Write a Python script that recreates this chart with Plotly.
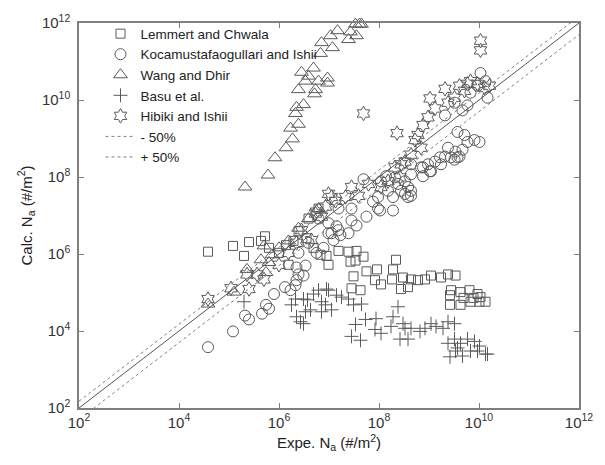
import numpy as np
import plotly.graph_objects as go

# ---- data: (log10 Expe. Na, log10 Calc. Na) ----
lemmert_log10 = [
    (4.58, 6.06), (5.08, 6.21), (5.30, 5.95), (5.40, 6.31), (5.64, 6.34), (5.72, 6.46),
    (5.80, 6.16), (6.14, 6.23), (6.00, 6.03), (6.29, 6.34), (6.39, 6.59), (6.55, 6.41),
    (6.69, 6.16), (6.83, 5.98), (6.19, 5.72), (6.99, 5.72), (6.95, 5.95), (7.19, 6.08),
    (7.39, 6.06), (7.55, 6.08), (7.69, 5.93), (7.43, 5.80), (7.53, 5.83), (8.34, 5.85),
    (7.75, 5.55), (7.96, 5.60), (8.28, 5.60), (7.49, 5.42), (7.92, 5.32), (8.04, 5.21),
    (8.26, 5.34), (8.48, 5.39), (8.64, 5.34), (8.78, 5.32), (8.92, 5.34), (9.04, 5.44),
    (9.24, 5.39), (9.38, 5.47), (9.53, 5.44), (7.45, 5.11), (7.63, 5.06), (8.44, 5.09),
    (8.58, 5.14), (9.44, 5.06), (9.42, 4.93), (9.63, 5.01), (9.81, 5.06), (9.97, 4.96),
    (10.03, 4.88), (9.42, 4.68), (9.63, 4.68), (9.83, 4.76), (10.01, 4.76), (10.13, 4.76),
    (9.69, 4.86), (9.89, 4.86), (6.59, 6.92), (6.79, 7.18),
]
kocamustafaogullari_log10 = [
    (4.58, 3.58), (5.08, 3.99), (5.32, 4.40), (5.40, 4.30), (5.66, 4.45), (5.74, 4.68),
    (5.80, 4.58), (5.90, 4.96), (6.12, 5.14), (6.23, 5.06), (6.33, 5.19), (6.35, 5.32),
    (6.39, 5.47), (6.49, 5.44), (6.35, 5.65), (6.53, 5.70), (7.15, 6.72), (6.99, 6.54),
    (7.23, 6.49), (7.09, 6.36), (7.69, 7.94), (7.98, 7.18), (7.88, 7.36), (8.28, 7.13),
    (8.02, 7.13), (7.75, 6.97), (7.45, 6.87), (7.55, 6.74), (7.39, 6.54), (7.19, 6.62),
    (7.05, 6.54), (6.99, 6.80), (7.45, 7.18), (8.28, 7.48), (8.52, 7.56), (8.64, 7.51),
    (8.58, 7.74), (8.38, 7.82), (8.14, 8.02), (8.64, 8.33), (8.88, 8.25), (9.02, 8.15),
    (9.24, 8.33), (9.51, 8.45), (9.61, 8.53), (9.32, 8.53), (10.03, 10.70), (9.38, 8.76),
    (9.53, 8.66), (9.44, 8.51), (9.57, 8.51), (9.67, 8.71), (9.77, 8.91), (9.91, 8.96),
    (10.01, 8.91), (9.71, 9.09), (9.57, 9.17), (9.22, 8.51), (9.12, 8.40), (8.98, 8.33),
    (8.84, 8.25), (9.04, 8.15), (8.88, 8.02), (8.64, 8.07), (8.52, 7.89), (8.64, 7.64),
    (8.58, 7.48), (8.44, 7.64), (8.32, 7.99), (8.18, 7.64), (8.04, 7.89), (7.98, 7.48),
    (9.32, 9.60), (9.77, 9.86), (9.83, 10.19), (9.97, 10.37), (9.51, 9.93), (10.13, 10.49),
    (10.17, 10.06), (9.67, 9.73), (6.59, 6.29), (6.75, 6.03), (6.39, 6.03), (6.89, 6.16),
    (7.19, 7.18), (6.79, 6.92),
]
wang_log10 = [
    (5.32, 7.74), (5.78, 8.05), (5.92, 8.50), (6.14, 8.76), (6.27, 8.99), (6.23, 9.27),
    (6.39, 9.37), (6.33, 9.65), (6.35, 9.81), (6.49, 9.88), (6.39, 10.27), (6.71, 10.16),
    (6.73, 10.27), (6.45, 10.72), (6.59, 10.62), (6.53, 10.49), (6.79, 10.49), (6.97, 10.57),
    (6.97, 10.44), (6.83, 11.21), (7.07, 11.36), (6.85, 11.49), (7.03, 11.67), (7.17, 11.80),
    (7.39, 11.57), (7.43, 11.77), (7.55, 11.67), (7.53, 11.97), (7.61, 11.97), (7.65, 11.97),
    (6.69, 10.83), (4.58, 4.70), (5.10, 5.01), (5.36, 5.60), (5.64, 5.85), (5.70, 6.21),
    (5.74, 5.52), (5.80, 5.78), (5.86, 5.98), (6.00, 6.16), (6.19, 6.34), (6.39, 6.67),
    (6.59, 6.92), (6.79, 7.18),
]
basu_log10 = [
    (5.30, 4.76), (6.25, 4.68), (6.33, 4.83), (6.49, 4.83), (6.35, 4.37), (6.43, 4.24),
    (6.49, 4.19), (6.53, 4.50), (6.63, 4.55), (6.69, 4.96), (6.79, 5.06), (6.95, 5.09),
    (6.85, 4.76), (6.93, 4.68), (6.85, 4.50), (7.05, 4.55), (7.15, 4.93), (7.25, 4.88),
    (7.39, 4.83), (7.49, 4.68), (7.65, 4.70), (7.53, 4.17), (7.45, 3.86), (7.63, 3.76),
    (7.73, 4.30), (7.94, 4.32), (7.92, 4.04), (8.04, 3.94), (8.24, 4.12), (8.28, 4.37),
    (8.38, 4.63), (8.48, 4.19), (8.52, 4.07), (8.42, 3.79), (8.58, 3.79), (8.64, 4.07),
    (8.82, 3.99), (8.92, 4.07), (9.04, 4.19), (9.14, 4.12), (9.28, 4.07), (9.38, 4.24),
    (9.51, 4.19), (9.38, 3.68), (9.51, 3.79), (9.63, 3.68), (9.77, 3.79), (9.91, 3.73),
    (10.01, 3.61), (9.42, 3.33), (9.53, 3.48), (9.67, 3.35), (9.83, 3.48), (9.97, 3.48),
    (10.13, 3.40), (9.57, 3.56), (10.17, 3.40), (6.99, 5.06), (6.57, 4.81),
]
hibiki_log10 = [
    (4.58, 4.83), (5.04, 5.11), (5.40, 5.09), (5.36, 5.47), (5.70, 5.34), (5.56, 5.47),
    (6.45, 6.62), (6.73, 7.05), (6.85, 6.97), (6.93, 7.23), (6.65, 6.36), (7.05, 7.48),
    (6.99, 7.56), (7.13, 7.38), (7.45, 7.74), (7.33, 7.48), (6.75, 7.10), (9.32, 10.29),
    (9.02, 10.04), (9.12, 9.78), (8.98, 9.55), (8.88, 9.35), (8.78, 9.09), (8.72, 8.96),
    (8.84, 8.76), (8.64, 8.58), (8.52, 8.40), (9.77, 10.42), (9.83, 10.49), (10.11, 10.32),
    (9.71, 10.24), (9.51, 10.06), (9.38, 9.93), (8.44, 8.33), (8.32, 8.25), (8.42, 7.99),
    (8.18, 7.89), (8.04, 7.74), (7.69, 9.65), (8.36, 9.14), (10.03, 11.54), (10.03, 11.29),
    (9.97, 10.42), (10.21, 10.37), (9.61, 10.37), (6.00, 5.72), (6.19, 6.03), (6.35, 6.29),
    (7.79, 7.82), (7.59, 7.51),
]

series_names = ["Lemmert and Chwala", "Kocamustafaogullari and Ishii", "Wang and Dhir",
                "Basu et al.", "Hibiki and Ishii"]
series_data = [lemmert_log10, kocamustafaogullari_log10, wang_log10, basu_log10, hibiki_log10]
series_symbols = ["square-open", "circle-open", "triangle-up-open", "cross-thin-open", "hexagram-open"]
series_sizes = [9, 11, 12, 10, 11]

line_x = [1e2, 1e12]
band_names = ["- 50%", "+ 50%"]
band_ratios = [0.5, 1.5]

tick_exps = [2, 4, 6, 8, 10, 12]
tick_vals = [10.0 ** e for e in tick_exps]
tick_text = [f"10<sup>{e}</sup>" for e in tick_exps]

FONT = "Liberation Sans, Arial, sans-serif"
MARK = "#5a5a5a"

fig = go.Figure()

for name, pts, sym, sz in zip(series_names, series_data, series_symbols, series_sizes):
    arr = np.array(pts)
    fig.add_trace(go.Scatter(
        x=np.power(10.0, arr[:, 0]), y=np.power(10.0, arr[:, 1]),
        mode="markers", name=name, cliponaxis=False,
        marker=dict(symbol=sym, size=sz, color=MARK, line=dict(color=MARK, width=1)),
    ))

for name, r in zip(band_names, band_ratios):
    fig.add_trace(go.Scatter(
        x=line_x, y=[v * r for v in line_x], mode="lines", name=name,
        line=dict(color="#808080", width=1, dash="dot"),
    ))

fig.add_trace(go.Scatter(
    x=line_x, y=line_x, mode="lines", showlegend=False,
    line=dict(color="#555555", width=1),
))

axis_common = dict(
    type="log", tickvals=tick_vals, ticktext=tick_text, ticks="inside", ticklen=5,
    tickcolor="#7f7f7f", showline=True, linecolor="#7f7f7f", linewidth=1.5, mirror="ticks",
    showgrid=False, zeroline=False, tickfont=dict(family=FONT, size=15, color="#333333"),
)

fig.update_layout(
    width=605, height=465,
    margin=dict(l=79, r=23, t=16, b=57),
    paper_bgcolor="white", plot_bgcolor="white",
    font=dict(family=FONT, color="#222222"),
    xaxis=dict(range=[2, 12], title=dict(text="Expe. N<sub>a</sub> (#/m<sup>2</sup>)",
               font=dict(size=15), standoff=8), **axis_common),
    yaxis=dict(range=[2, 12], title=dict(text="Calc. N<sub>a</sub> (#/m<sup>2</sup>)",
               font=dict(size=15), standoff=6), ticklabelstandoff=4, **axis_common),
    legend=dict(x=0.043, y=1.012, xanchor="left", yanchor="top", bgcolor="rgba(0,0,0,0)",
                font=dict(family=FONT, size=13.5, color="#222222"), tracegroupgap=0),
)

fig.write_html("out.html")
